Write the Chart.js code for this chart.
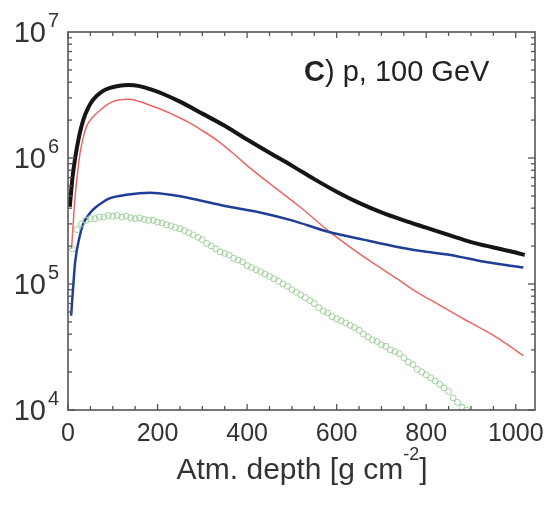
<!DOCTYPE html>
<html>
<head>
<meta charset="utf-8">
<script src="https://cdn.jsdelivr.net/npm/chart.js@4.4.1/dist/chart.umd.min.js"></script>
<style>
  html, body { margin: 0; padding: 0; background: #fff; }
  #wrap { width: 546px; height: 507px; }
</style>
</head>
<body>
<div id="wrap"><canvas id="c"></canvas></div>
<script>
// black: total
const depthTotal = [4, 10, 16, 25, 34, 45, 56, 75, 94, 115, 135, 160, 185, 210, 250, 300, 350, 400, 450, 500, 550, 600, 650, 700, 750, 800, 850, 900, 950, 1000, 1020];
const valuesTotal = [4.1e5, 7e5, 1.0e6, 1.5e6, 2.0e6, 2.5e6, 2.9e6, 3.35e6, 3.6e6, 3.75e6, 3.8e6, 3.72e6, 3.5e6, 3.25e6, 2.8e6, 2.25e6, 1.8e6, 1.4e6, 1.1e6, 8.7e5, 6.8e5, 5.4e5, 4.4e5, 3.7e5, 3.2e5, 2.8e5, 2.45e5, 2.15e5, 1.95e5, 1.78e5, 1.7e5];

// red
const depthRed = [8, 15, 22, 27, 35, 42, 55, 72, 95, 116, 135, 154, 180, 206, 236, 266, 300, 333, 370, 407, 460, 518, 581, 640, 697, 742, 771, 830, 883, 930, 966, 1017];
const valuesRed = [1.9e5, 4.5e5, 8e5, 1.1e6, 1.5e6, 1.8e6, 2.1e6, 2.4e6, 2.75e6, 2.9e6, 2.92e6, 2.85e6, 2.65e6, 2.45e6, 2.2e6, 1.95e6, 1.65e6, 1.38e6, 1.08e6, 8.3e5, 5.9e5, 4.1e5, 2.65e5, 1.85e5, 1.35e5, 1.06e5, 9.0e4, 6.8e4, 5.3e4, 4.3e4, 3.6e4, 2.7e4];

// blue
const depthBlue = [7, 12, 16, 25, 34, 45, 56, 75, 94, 130, 183, 230, 295, 360, 429, 500, 581, 660, 742, 800, 854, 930, 1017];
const valuesBlue = [5.6e4, 1.0e5, 1.5e5, 2.3e5, 3.0e5, 3.5e5, 3.9e5, 4.4e5, 4.8e5, 5.1e5, 5.3e5, 5.1e5, 4.6e5, 4.1e5, 3.7e5, 3.2e5, 2.6e5, 2.25e5, 1.95e5, 1.8e5, 1.7e5, 1.5e5, 1.35e5];

// green open circles
const depthGreen = [10, 20, 30, 40, 50, 60, 70, 80, 90, 100, 110, 120, 130, 140, 150, 160, 170, 180, 190, 200, 210, 220, 230, 240, 250, 260, 270, 280, 290, 300, 310, 320, 330, 340, 350, 360, 370, 380, 390, 400, 410, 420, 430, 440, 450, 460, 470, 480, 490, 500, 510, 520, 530, 540, 550, 560, 570, 580, 590, 600, 610, 620, 630, 640, 650, 660, 670, 680, 690, 700, 710, 720, 730, 740, 750, 760, 770, 780, 790, 800, 810, 820, 830, 840, 850, 860, 870, 880, 890];
const valuesGreen = [1.9e5, 2.7e5, 3.0e5, 3.2e5, 3.3e5, 3.3e5, 3.4e5, 3.4e5, 3.5e5, 3.45e5, 3.5e5, 3.4e5, 3.45e5, 3.35e5, 3.3e5, 3.35e5, 3.25e5, 3.2e5, 3.2e5, 3.1e5, 3.05e5, 2.95e5, 2.9e5, 2.8e5, 2.75e5, 2.65e5, 2.55e5, 2.45e5, 2.35e5, 2.25e5, 2.1e5, 2.0e5, 1.9e5, 1.8e5, 1.75e5, 1.7e5, 1.6e5, 1.55e5, 1.5e5, 1.4e5, 1.35e5, 1.3e5, 1.25e5, 1.2e5, 1.15e5, 1.1e5, 1.05e5, 1.0e5, 9.6e4, 9.0e4, 8.6e4, 8.2e4, 7.8e4, 7.4e4, 7.0e4, 6.5e4, 6.1e4, 5.9e4, 5.5e4, 5.3e4, 5.1e4, 4.9e4, 4.7e4, 4.5e4, 4.3e4, 4.0e4, 3.8e4, 3.6e4, 3.5e4, 3.3e4, 3.2e4, 3.0e4, 2.9e4, 2.8e4, 2.6e4, 2.4e4, 2.3e4, 2.1e4, 2.0e4, 1.9e4, 1.8e4, 1.7e4, 1.6e4, 1.5e4, 1.4e4, 1.25e4, 1.15e4, 1.05e4, 1.0e4];

const xTickLabels = [0, 200, 400, 600, 800, 1000];
const yDecades = [4, 5, 6, 7];
const xTitle = 'Atm. depth [g cm';
const xTitleSup = '-2';
const panelLetter = 'C';
const panelText = ') p, 100 GeV';

const toPoints = (xs, ys) => xs.map((v, i) => ({ x: v, y: ys[i] }));

const FONT = "'Liberation Sans', Arial, sans-serif";

// frame, inward ticks and all the text
const frame = {
  id: 'frame',
  afterDraw(chart) {
    const { ctx, chartArea: a, scales: { x, y } } = chart;
    ctx.save();
    ctx.strokeStyle = '#555';
    ctx.lineWidth = 1.3;
    const seg = (x1, y1, x2, y2) => { ctx.beginPath(); ctx.moveTo(x1, y1); ctx.lineTo(x2, y2); ctx.stroke(); };

    // x ticks every 50, longer at 200
    for (let v = 0; v <= x.max; v += 50) {
      const px = x.getPixelForValue(v);
      const len = v % 200 === 0 ? 6 : 4;
      seg(px, a.bottom, px, a.bottom - len);
      seg(px, a.top, px, a.top + len);
    }
    // y log ticks
    for (let e = 4; e < 7; e++) {
      for (let m = 1; m < 10; m++) {
        const py = y.getPixelForValue(m * Math.pow(10, e));
        const len = m === 1 ? 7 : 4;
        seg(a.left, py, a.left + len, py);
        seg(a.right, py, a.right - len, py);
      }
    }
    ctx.lineWidth = 1.6;
    ctx.strokeRect(a.left, a.top, a.right - a.left, a.bottom - a.top);

    ctx.fillStyle = '#333';
    ctx.textBaseline = 'alphabetic';

    // y labels 10^n
    yDecades.forEach(e => {
      const py = y.getPixelForValue(Math.pow(10, e));
      ctx.font = '29px ' + FONT;
      ctx.textAlign = 'right';
      ctx.fillText('10', a.left - 22, py + 10);
      ctx.font = '20px ' + FONT;
      ctx.textAlign = 'left';
      ctx.fillText(String(e), a.left - 20, py - 5);
    });

    // x labels
    ctx.font = '25px ' + FONT;
    ctx.textAlign = 'center';
    xTickLabels.forEach(v => {
      ctx.fillText(String(v), x.getPixelForValue(v), a.bottom + 31);
    });

    // x title with superscript
    const big = '30px ' + FONT, small = '18px ' + FONT;
    ctx.font = big;
    const w1 = ctx.measureText(xTitle).width;
    const w3 = ctx.measureText(']').width;
    ctx.font = small;
    const w2 = ctx.measureText(xTitleSup).width;
    let tx = 302 - (w1 + w2 + w3) / 2;
    ctx.textAlign = 'left';
    ctx.font = big;
    ctx.fillText(xTitle, tx, 479);
    tx += w1;
    ctx.font = small;
    ctx.fillText(xTitleSup, tx, 460);
    tx += w2;
    ctx.font = big;
    ctx.fillText(']', tx, 479);

    // panel label
    ctx.fillStyle = '#222';
    ctx.font = 'bold 29px ' + FONT;
    const cw = ctx.measureText(panelLetter).width;
    ctx.fillText(panelLetter, 304, 81);
    ctx.font = '29px ' + FONT;
    ctx.fillText(panelText, 304 + cw, 81);
    ctx.restore();
  }
};

new Chart(document.getElementById('c'), {
  type: 'line',
  data: {
    datasets: [
      {
        label: 'green',
        data: toPoints(depthGreen, valuesGreen),
        showLine: false,
        pointStyle: 'circle',
        pointRadius: 3,
        pointBorderWidth: 1,
        pointBorderColor: '#9dd09a',
        pointBackgroundColor: 'rgba(255,255,255,0)'
      },
      {
        label: 'blue',
        data: toPoints(depthBlue, valuesBlue),
        borderColor: '#1f3f96',
        borderWidth: 2.5,
        pointRadius: 0,
        cubicInterpolationMode: 'monotone'
      },
      {
        label: 'red',
        data: toPoints(depthRed, valuesRed),
        borderColor: '#ee6464',
        borderWidth: 1.5,
        pointRadius: 0,
        cubicInterpolationMode: 'monotone'
      },
      {
        label: 'total',
        data: toPoints(depthTotal, valuesTotal),
        borderColor: '#151515',
        borderWidth: 4,
        pointRadius: 0,
        cubicInterpolationMode: 'monotone'
      }
    ]
  },
  options: {
    responsive: true,
    maintainAspectRatio: false,
    animation: false,
    layout: { padding: { left: 68, right: 11, top: 32, bottom: 97 } },
    plugins: { legend: { display: false }, tooltip: { enabled: false } },
    scales: {
      x: {
        type: 'linear',
        min: 0,
        max: 1043,
        ticks: { display: false },
        grid: { display: false, drawTicks: false },
        border: { display: false }
      },
      y: {
        type: 'logarithmic',
        min: 1e4,
        max: 1e7,
        ticks: { display: false },
        grid: { display: false, drawTicks: false },
        border: { display: false }
      }
    }
  },
  plugins: [frame]
});
</script>
</body>
</html>
